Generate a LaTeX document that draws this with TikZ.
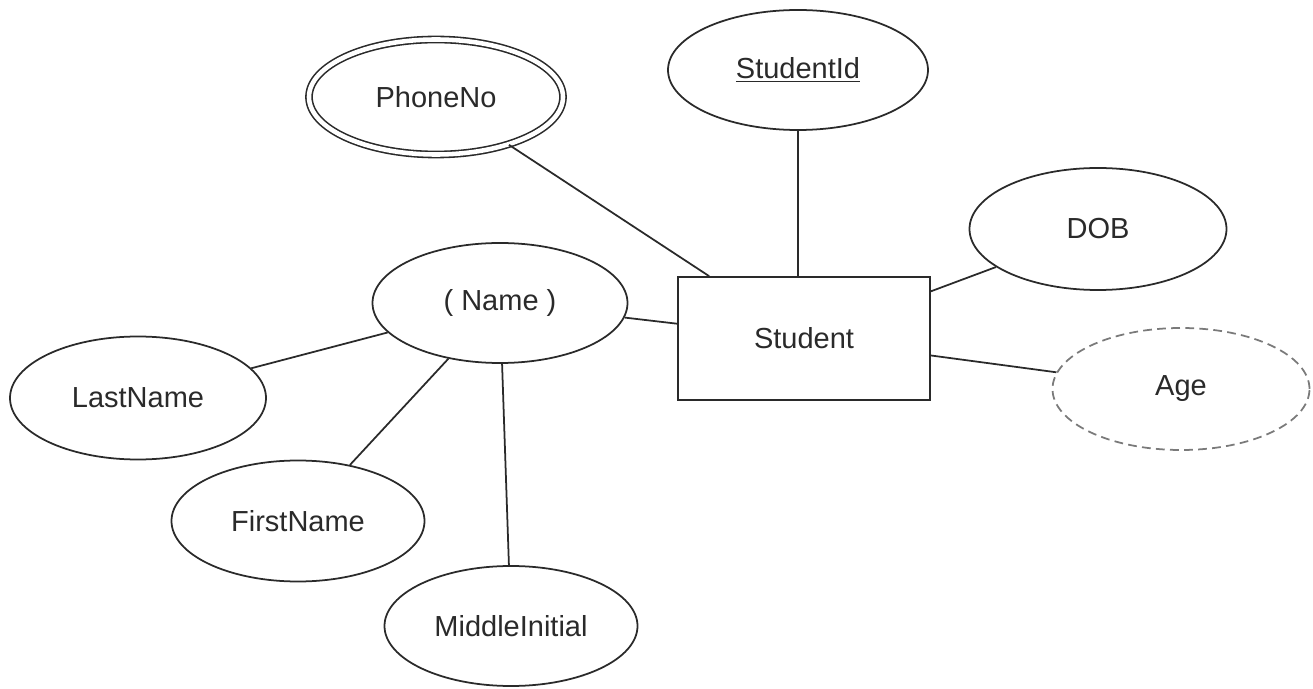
\documentclass[tikz,border=0pt]{standalone}
\usepackage{fontspec}
\setmainfont{Liberation Sans}
\usetikzlibrary{shapes.geometric}
\definecolor{ink}{HTML}{2A2A2A}
\definecolor{dashgray}{HTML}{7A7A7A}
\begin{document}
\begin{tikzpicture}[x=0.02cm,y=-0.02cm,
  every node/.style={font=\fontsize{16.5}{20}\selectfont, text=ink},
  attr/.style={ellipse, draw=ink, line width=1pt, inner sep=0pt},
  multiattr/.style={ellipse, draw=ink, line width=0.9pt, double, double distance=2.6pt, inner sep=0pt},
  derived/.style={ellipse, draw=dashgray, line width=1pt, dash pattern=on 5pt off 3pt, inner sep=0pt},
  entity/.style={rectangle, draw=ink, line width=1pt, inner sep=0pt},
  link/.style={draw=ink, line width=1pt}]
\useasboundingbox (0,0) rectangle (1313,689);
\node[multiattr, minimum width=254*0.02cm, minimum height=115*0.02cm] (phone) at (436,97) {PhoneNo};
\node[attr, minimum width=260*0.02cm, minimum height=120*0.02cm] (sid) at (798,70) {\underline{StudentId}};
\node[attr, minimum width=257*0.02cm, minimum height=122*0.02cm] (dob) at (1098,229) {DOB};
\node[attr, minimum width=255*0.02cm, minimum height=120*0.02cm] (name) at (500,303) {( Name )};
\node[entity, minimum width=252*0.02cm, minimum height=123*0.02cm] (student) at (804,338.5) {Student};
\node[derived, minimum width=257*0.02cm, minimum height=122*0.02cm] (age) at (1181,389) {Age};
\node[attr, minimum width=256*0.02cm, minimum height=123*0.02cm] (last) at (138,398) {LastName};
\node[attr, minimum width=253*0.02cm, minimum height=121*0.02cm] (first) at (298,521) {FirstName};
\node[attr, minimum width=253*0.02cm, minimum height=120*0.02cm] (mid) at (511,626) {MiddleInitial};
\draw[link] (phone) -- (student);
\draw[link] (sid.south) -- (sid.south |- student.north);
\draw[link] (dob) -- (student);
\draw[link] (age) -- (student);
\draw[link] (name) -- (student);
\draw[link] (name) -- (last);
\draw[link] (name) -- (first);
\draw[link] (name) -- (mid);
\end{tikzpicture}
\end{document}
